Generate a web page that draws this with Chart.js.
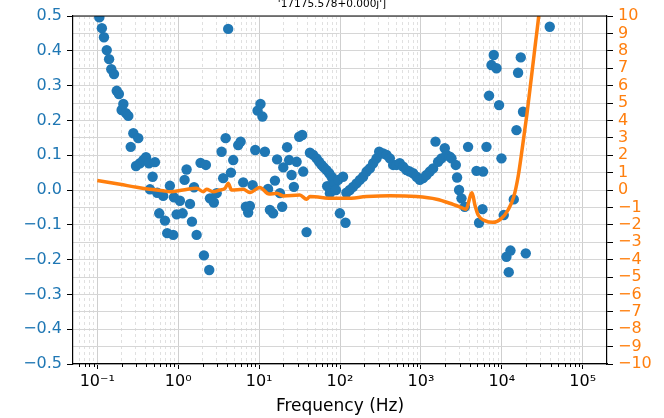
<!DOCTYPE html>
<html>
<head>
<meta charset="utf-8">
<script src="https://cdn.jsdelivr.net/npm/chart.js@4/dist/chart.umd.min.js"></script>
<style>
html,body{margin:0;padding:0;background:#fff;}
canvas{display:block;}
</style>
</head>
<body>
<canvas id="c" width="664" height="418"></canvas>
<script>
// ---- data ----
const titleText = "'17175.578+0.000j']";
const xAxisLabel = "Frequency (Hz)";

const blueFreq = [0.106,0.114,0.121,0.131,0.140,0.149,0.161,0.174,0.185,0.200,0.210,0.226,0.242,0.259,0.279,0.301,0.321,0.337,0.370,0.400,0.435,0.448,0.483,0.516,0.551,0.583,0.653,0.686,0.732,0.790,0.869,0.886,0.957,1.05,1.135,1.20,1.27,1.40,1.48,1.57,1.69,1.89,2.08,2.20,2.42,2.47,2.76,2.99,3.44,3.60,3.86,4.15,4.49,4.79,5.52,5.91,6.36,6.87,7.33,7.69,8.32,8.96,9.58,10.4,11.0,11.8,12.9,13.6,14.9,15.7,16.7,18.1,19.3,19.9,22.2,23.5,25.2,26.9,29.1,31.3,34.1,35.1,38.6,42.5,46.6,51.3,55.2,59.2,63.1,68.2,69.4,73.5,75,78.7,82.2,86.3,89,94.9,99.6,109,117,120,132,145,160,176,193,213,234,257,283,305,341,376,413,454,500,548,603,664,729,801,883,969,1065,1173,1288,1415,1515,1631,1796,1972,2070,2275,2387,2698,2800,2964,3172,3485,3828,4864,5233,5768,5866,6462,6956,7447,7950,8590,9250,9900,10570,11400,12180,12790,14060,15180,15890,17150,18290,19780,39100];
const blueVal = [0.496,0.465,0.439,0.402,0.376,0.347,0.333,0.285,0.276,0.230,0.247,0.221,0.213,0.124,0.163,0.069,0.149,0.077,0.086,0.094,0.077,0.002,0.038,0.080,-0.008,-0.067,-0.017,-0.088,-0.124,0.012,-0.129,-0.021,-0.070,-0.031,-0.067,0.029,0.059,-0.040,-0.091,0.008,-0.129,0.078,-0.188,0.072,-0.230,-0.024,-0.036,-0.009,0.110,0.034,0.149,0.463,0.050,0.086,0.129,0.139,0.022,-0.048,-0.065,-0.046,0.014,0.115,0.228,0.247,0.211,0.110,0.003,-0.057,-0.067,0.027,0.088,-0.009,-0.048,0.065,0.123,0.086,0.043,0.009,0.081,0.153,0.158,0.053,-0.121,0.107,0.101,0.091,0.081,0.072,0.065,0.057,0.011,0.048,-0.009,0.038,0.029,0.019,0.000,0.029,-0.067,0.038,-0.094,-0.008,0.000,0.009,0.019,0.029,0.038,0.053,0.062,0.077,0.091,0.110,0.105,0.101,0.091,0.072,0.072,0.077,0.067,0.057,0.053,0.048,0.038,0.029,0.034,0.043,0.053,0.062,0.139,0.081,0.091,0.120,0.101,0.096,0.091,0.072,0.036,0.000,-0.024,-0.048,0.124,0.055,-0.094,-0.055,0.053,0.124,0.271,0.359,0.388,0.350,0.244,0.091,-0.072,-0.192,-0.236,-0.174,-0.027,0.172,0.337,0.381,0.225,-0.182,0.469];

const orangeFreq = [0.1,0.191,0.307,0.448,0.653,0.79,1.15,1.69,2.04,2.24,2.70,3.27,3.8,4.15,4.56,6.36,7.69,10.2,13.3,16.5,20,31.9,38.6,42.5,82,120,213,413,883,1560,2275,3320,3586,4285,4650,5100,6150,7800,9900,11940,14060,15890,18000,20500,23240,26050,28600,31000];
const orangeVal = [0.55,0.33,0.155,0.04,-0.04,-0.1,0,0.1,-0.1,0.04,-0.1,0,0.1,0.39,0,0.04,-0.15,0.15,-0.23,-0.19,-0.34,-0.29,-0.53,-0.38,-0.48,-0.48,-0.38,-0.33,-0.38,-0.53,-0.76,-1.05,-1.11,-0.16,-0.86,-1.44,-1.76,-1.86,-1.63,-1.15,-0.38,0.76,2.49,4.41,6.51,8.43,10.0,11.6];

const xMajorTicks = [0.1,1,10,100,1000,10000,100000];
const xMinorTicks = [0.06,0.07,0.08,0.09,
  0.2,0.3,0.4,0.5,0.6,0.7,0.8,0.9,
  2,3,4,5,6,7,8,9,
  20,30,40,50,60,70,80,90,
  200,300,400,500,600,700,800,900,
  2000,3000,4000,5000,6000,7000,8000,9000,
  20000,30000,40000,50000,60000,70000,80000,90000];
const xMajorLabels = ['10⁻¹','10⁰','10¹','10²','10³','10⁴','10⁵'];
const leftTicks = [-0.5,-0.4,-0.3,-0.2,-0.1,0,0.1,0.2,0.3,0.4,0.5];
const rightTicks = [-10,-9,-8,-7,-6,-5,-4,-3,-2,-1,0,1,2,3,4,5,6,7,8,9,10];

// ---- chart ----
const BLUE = '#1f77b4', ORANGE = '#ff7f0e';
const FONT = 'DejaVu Sans';
Chart.defaults.font.family = FONT;

function isMajorX(v){ return xMajorTicks.some(m => Math.abs(m - v) / m < 1e-6); }
function majorLabel(v){
  const i = xMajorTicks.findIndex(m => Math.abs(m - v) / m < 1e-6);
  return i >= 0 ? xMajorLabels[i] : '';
}
const minus = s => s.replace('-', '\u2212');

const framePlugin = {
  id: 'frame',
  afterDraw(chart){
    const {ctx, chartArea: a} = chart;
    const xs = chart.scales.x;
    ctx.save();
    ctx.strokeStyle = '#000';
    ctx.lineWidth = 1;
    ctx.beginPath();
    xMinorTicks.forEach(v => {
      const px = Math.round(xs.getPixelForValue(v)) + 0.5;
      ctx.moveTo(px, a.bottom);
      ctx.lineTo(px, a.bottom + 3);
    });
    ctx.stroke();
    ctx.lineWidth = 1.2;
    ctx.beginPath();
    ctx.moveTo(a.left, a.top);
    ctx.lineTo(a.right, a.top);
    ctx.stroke();
    ctx.restore();
  }
};

new Chart(document.getElementById('c'), {
  type: 'scatter',
  data: {
    datasets: [
      {
        type: 'line',
        data: orangeFreq.map((f, i) => ({x: f, y: orangeVal[i]})),
        yAxisID: 'y2',
        borderColor: ORANGE,
        borderWidth: 3.5,
        pointRadius: 0,
        fill: false,
        cubicInterpolationMode: 'monotone',
        order: 1
      },
      {
        data: blueFreq.map((f, i) => ({x: f, y: blueVal[i]})),
        yAxisID: 'y',
        backgroundColor: BLUE,
        borderWidth: 0,
        pointRadius: 5.2,
        order: 2
      }
    ]
  },
  options: {
    responsive: false,
    devicePixelRatio: 1,
    animation: false,
    layout: {padding: 0},
    plugins: {
      legend: {display: false},
      tooltip: {enabled: false},
      title: {
        display: true,
        text: titleText,
        color: '#000',
        font: {size: 10.5, family: FONT, weight: 'normal'},
        padding: {top: -2, bottom: 5.4}
      }
    },
    scales: {
      x: {
        type: 'logarithmic',
        min: Math.pow(10, -1.3),
        max: Math.pow(10, 5.3),
        afterBuildTicks: s => {
          s.ticks = xMajorTicks.concat(xMinorTicks).sort((a, b) => a - b).map(v => ({value: v}));
        },
        afterFit: s => { s.height = 54; },
        ticks: {
          autoSkip: false, maxRotation: 0, minRotation: 0,
          color: '#000', font: {size: 16}, padding: 3,
          callback: v => majorLabel(v)
        },
        grid: {
          color: c => (c.tick && isMajorX(c.tick.value)) ? '#cfcfcf' : '#e0e0e0',
          lineWidth: 1,
          tickLength: 5,
          tickColor: c => (c.tick && isMajorX(c.tick.value)) ? '#000' : 'rgba(0,0,0,0)'
        },
        border: {
          color: '#000', width: 1.2,
          dash: c => (c.tick && !isMajorX(c.tick.value)) ? [3, 3] : []
        },
        title: {
          display: true, text: xAxisLabel, color: '#000',
          font: {size: 17}, padding: {top: 0, bottom: 1}
        }
      },
      y: {
        position: 'left',
        min: -0.5, max: 0.5,
        afterBuildTicks: s => { s.ticks = leftTicks.map(v => ({value: v})); },
        afterFit: s => { s.width = 73; },
        ticks: {
          autoSkip: false,
          color: BLUE, font: {size: 16}, padding: 5,
          callback: v => minus((Math.abs(v) < 1e-9 ? 0 : v).toFixed(1))
        },
        grid: {color: '#cccccc', lineWidth: 1, tickLength: 6, tickColor: '#000'},
        border: {color: '#000', width: 1.2}
      },
      y2: {
        position: 'right',
        min: -10, max: 10,
        afterBuildTicks: s => { s.ticks = rightTicks.map(v => ({value: v})); },
        afterFit: s => { s.width = 57; },
        ticks: {
          autoSkip: false,
          color: ORANGE, font: {size: 16}, padding: 5,
          callback: v => minus(String(v))
        },
        grid: {color: '#d6d6d6', lineWidth: 1, tickLength: 6, tickColor: '#000'},
        border: {color: '#000', width: 1.2}
      }
    }
  },
  plugins: [framePlugin]
});
</script>
</body>
</html>
